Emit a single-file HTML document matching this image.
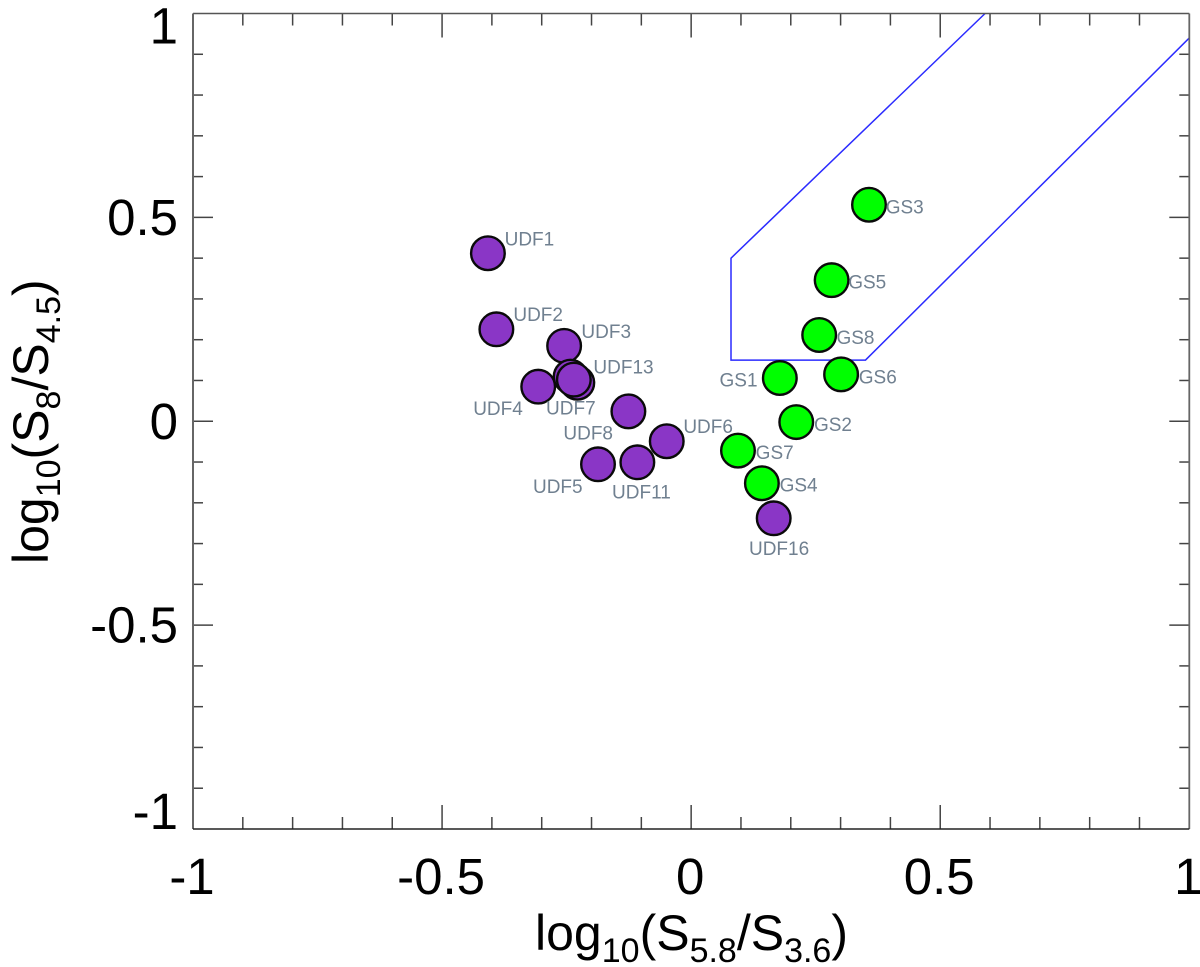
<!DOCTYPE html>
<html lang="en">
<head>
<meta charset="utf-8">
<title>Mid-infrared colour-colour diagram</title>
<style>
  html, body { margin: 0; padding: 0; background: #ffffff; }
  svg { display: block; font-family: "Liberation Sans", Arial, sans-serif; }
</style>
</head>
<body>
<svg id="chart" xmlns="http://www.w3.org/2000/svg" width="1200" height="967" viewBox="0 0 1200 967">
  <rect x="0" y="0" width="1200" height="967" fill="#ffffff"></rect>
  <g id="wedge-layer"></g>
  <g id="tick-layer"></g>
  <g id="frame-layer"></g>
  <g id="point-layer"></g>
  <g id="label-layer"></g>
  <g id="tick-label-layer"></g>
  <text x="535" y="950" font-size="50" fill="#000">log<tspan font-size="34" dy="12">10</tspan><tspan dy="-12">(S</tspan><tspan font-size="34" dy="12">5.8</tspan><tspan dy="-12">/S</tspan><tspan font-size="34" dy="12">3.6</tspan><tspan dy="-12">)</tspan></text>
  <text transform="translate(48 564) rotate(-90)" x="0" y="0" font-size="50" fill="#000">log<tspan font-size="34" dy="12">10</tspan><tspan dy="-12">(S</tspan><tspan font-size="34" dy="12">8</tspan><tspan dy="-12">/S</tspan><tspan font-size="34" dy="12">4.5</tspan><tspan dy="-12">)</tspan></text>
</svg>
<script>
// ---- chart data ----
const xTickLabels = ['-1', '-0.5', '0', '0.5', '1'];
const yTickLabels = ['-1', '-0.5', '0', '0.5', '1'];
const tickValues = [-1, -0.5, 0, 0.5, 1];
const minorTickStep = 0.1;

const wedgeX = [1.0, 0.35, 0.08, 0.08, 0.59];
const wedgeY = [0.94, 0.15, 0.15, 0.40, 1.0];

const gsNames = ['GS1', 'GS2', 'GS3', 'GS5', 'GS6', 'GS7', 'GS8', 'GS4'];
const gsX = [0.178, 0.211, 0.357, 0.282, 0.301, 0.094, 0.257, 0.142];
const gsY = [0.106, -0.002, 0.531, 0.346, 0.115, -0.072, 0.2115, -0.152];

const udfNames = ['UDF1', 'UDF2', 'UDF3', 'UDF4', 'UDF5', 'UDF6', 'UDF13', '', 'UDF7', 'UDF8', 'UDF11', 'UDF16'];
const udfX = [-0.408, -0.391, -0.255, -0.307, -0.187, -0.049, -0.242, -0.2285, -0.2355, -0.126, -0.108, 0.1657];
const udfY = [0.412, 0.2255, 0.185, 0.0848, -0.1056, -0.049, 0.1095, 0.0945, 0.102, 0.0243, -0.1007, -0.238];

// ---- layout ----
const plot = { left: 193, right: 1189.3, top: 13.5, bottom: 829 };
const markerRadius = 16.8;
const labelPlacement = {
  UDF1: [17.7, -8], UDF2: [18, -8.3], UDF3: [18.3, -7.7], UDF13: [23.8, -3], UDF7: [-26.8, 35],
  UDF4: [-64, 28.3], UDF8: [-64, 28.4], UDF6: [17.6, -8], UDF5: [-64, 28.7], UDF11: [-24.3, 36.4],
  UDF16: [-23.7, 36.7], GS3: [17.7, 8.6], GS5: [17.6, 8.3], GS8: [18.3, 9], GS6: [18.7, 9],
  GS1: [-59.3, 8.7], GS2: [18.7, 8.7], GS7: [18.7, 8.3], GS4: [18.7, 8.4]
};

const NS = 'http://www.w3.org/2000/svg';
function xScale(v) { return plot.left + (v + 1) / 2 * (plot.right - plot.left); }
function yScale(v) { return plot.bottom - (v + 1) / 2 * (plot.bottom - plot.top); }

const tickLayer = document.getElementById('tick-layer');
const tickCount = Math.round(2 / minorTickStep);
function addTick(x1, y1, x2, y2, color, width) {
  const el = document.createElementNS(NS, 'line');
  
  
  el.setAttribute('x1', x1);
  el.setAttribute('y1', y1);
  el.setAttribute('x2', x2);
  el.setAttribute('y2', y2);
  el.setAttribute('stroke', color);
  el.setAttribute('stroke-width', width);
  tickLayer.appendChild(el);
}
for (let i = 1; i < tickCount; i++) {
  const v = -1 + i * minorTickStep;
  const isMajor = i % 5 === 0;
  const xLen = isMajor ? 24 : 12;
  const yLen = isMajor ? 20 : 10;
  const px = xScale(v);
  const py = yScale(v);
  addTick(px, plot.top, px, plot.top + xLen, '#444', 1.5);
  addTick(px, plot.bottom, px, plot.bottom - xLen, '#444', 1.5);
  addTick(plot.left, py, plot.left + yLen, py, '#444', 1.5);
  addTick(plot.right, py, plot.right - yLen, py, '#444', 1.5);
}

const frameLayer = document.getElementById('frame-layer');
function addFrame(name, x1, y1, x2, y2, color, width) {
  const el = document.createElementNS(NS, 'line');
  
  
  el.setAttribute('x1', x1);
  el.setAttribute('y1', y1);
  el.setAttribute('x2', x2);
  el.setAttribute('y2', y2);
  el.setAttribute('stroke', color);
  el.setAttribute('stroke-width', width);
  frameLayer.appendChild(el);
}
addFrame('top-axis-line', plot.left, plot.top, plot.right, plot.top, '#555', 1.6);
addFrame('right-axis-line', plot.right, plot.top, plot.right, plot.bottom, '#666', 1.8);
addFrame('left-axis-line', plot.left, plot.top, plot.left, plot.bottom, '#666', 2);
addFrame('bottom-axis-line', plot.left, plot.bottom, plot.right, plot.bottom, '#222', 1.6);

const wedge = document.createElementNS(NS, 'polyline');


wedge.setAttribute('points', wedgeX.map(function (v, i) { return xScale(v) + ',' + yScale(wedgeY[i]); }).join(' '));
wedge.setAttribute('fill', 'none');
wedge.setAttribute('stroke', '#2b2bff');
wedge.setAttribute('stroke-width', '1.5');
document.getElementById('wedge-layer').appendChild(wedge);

const pointLayer = document.getElementById('point-layer');
const labelLayer = document.getElementById('label-layer');
function drawSeries(names, xs, ys, color) {
  names.forEach(function (name, i) {
    const cx = xScale(xs[i]);
    const cy = yScale(ys[i]);
    const dot = document.createElementNS(NS, 'circle');
    
    
    dot.setAttribute('cx', cx);
    dot.setAttribute('cy', cy);
    dot.setAttribute('r', markerRadius);
    dot.setAttribute('fill', color);
    dot.setAttribute('stroke', '#0a0a0a');
    dot.setAttribute('stroke-width', '2.4');
    pointLayer.appendChild(dot);
    if (!name) return;
    const off = labelPlacement[name];
    const txt = document.createElementNS(NS, 'text');
    
    
    txt.setAttribute('x', cx + off[0] - 1);
    txt.setAttribute('y', cy + off[1]);
    txt.setAttribute('font-size', '19');
    txt.setAttribute('fill', '#708090');
    txt.textContent = name;
    labelLayer.appendChild(txt);
  });
}
drawSeries(gsNames, gsX, gsY, '#00ff00');
drawSeries(udfNames, udfX, udfY, '#8a36c6');

const tickLabelLayer = document.getElementById('tick-label-layer');
tickValues.forEach(function (v, i) {
  const xt = document.createElementNS(NS, 'text');
  
  
  xt.setAttribute('x', xScale(v) - 1);
  xt.setAttribute('y', 894);
  xt.setAttribute('font-size', '51');
  xt.setAttribute('text-anchor', 'middle');
  xt.setAttribute('fill', '#000');
  xt.textContent = xTickLabels[i];
  tickLabelLayer.appendChild(xt);

  const yt = document.createElementNS(NS, 'text');
  
  
  yt.setAttribute('x', 178);
  const shift = v === 1 ? 30 : (v === -1 ? 0 : 17.5);
  yt.setAttribute('y', yScale(v) + shift);
  yt.setAttribute('font-size', '51');
  yt.setAttribute('text-anchor', 'end');
  yt.setAttribute('fill', '#000');
  yt.textContent = yTickLabels[i];
  tickLabelLayer.appendChild(yt);
});
</script>
</body>
</html>
